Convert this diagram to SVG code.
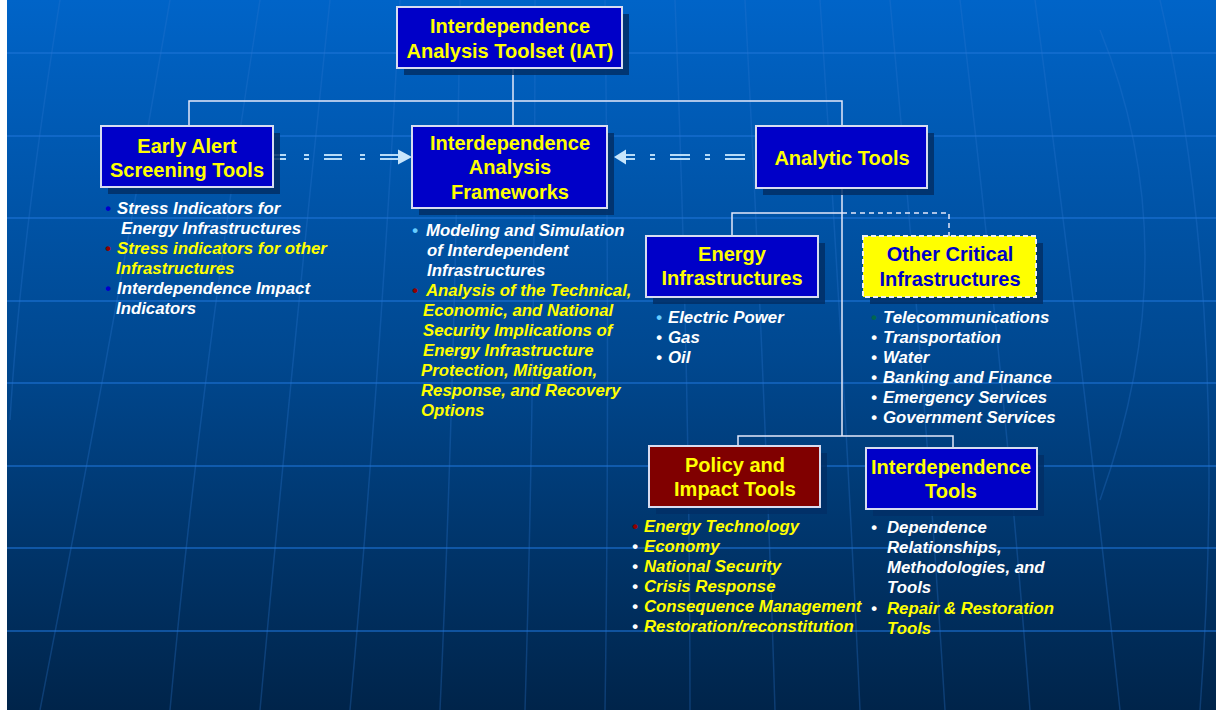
<svg xmlns="http://www.w3.org/2000/svg" width="1216" height="710" viewBox="0 0 1216 710">
<defs>
<linearGradient id="bg" x1="0" y1="0" x2="0" y2="1">
<stop offset="0" stop-color="#0064C8"/>
<stop offset="0.5" stop-color="#004890"/>
<stop offset="1" stop-color="#00244A"/>
</linearGradient>
<style>
.hl{stroke:#1E74D8;stroke-width:2;opacity:0.55}
.mer{fill:none;stroke:#2A78D0;stroke-width:1.5;opacity:0.3}
.shadow{fill:#012F66;opacity:0.85}
.box{stroke:#D8DCF0;stroke-width:2}
.blue{fill:#0000C8}
.red{fill:#800000}
.yel{fill:#FFFF00}
.title{font-family:"Liberation Sans",Arial,sans-serif;font-weight:bold;font-size:20px;text-anchor:middle}
.ty{fill:#FFFF00}
.tb{fill:#0000C8}
.item{font-family:"Liberation Sans",Arial,sans-serif;font-weight:bold;font-style:italic;font-size:16.8px}
.w{fill:#FFFFFF}
.y{fill:#FFFF00}
.conn{fill:none;stroke:#E4E8FA;stroke-width:1.5}
.dconn{fill:none;stroke:#E4E8FA;stroke-width:1.5;stroke-dasharray:5 4}
.dar{fill:none;stroke:#B8DCF8;stroke-width:2}
.ahead{fill:#C8E6FC}
</style>
</defs>
<rect x="0" y="0" width="1216" height="710" fill="#FFFFFF"/>
<rect x="7" y="0" width="1209" height="710" fill="url(#bg)"/>
<g id="background-grid">
<line class="hl" x1="7" y1="53" x2="1216" y2="53"/>
<line class="hl" x1="7" y1="136" x2="1216" y2="136"/>
<line class="hl" x1="7" y1="218" x2="1216" y2="218"/>
<line class="hl" x1="7" y1="301" x2="1216" y2="301"/>
<line class="hl" x1="7" y1="383" x2="1216" y2="383"/>
<line class="hl" x1="7" y1="466" x2="1216" y2="466" opacity="0.4"/>
<line class="hl" x1="7" y1="548" x2="1216" y2="548" opacity="0.35"/>
<line class="hl" x1="7" y1="631" x2="1216" y2="631" opacity="0.3"/>
<path class="mer" d="M60,0 Q20,250 10,420"/>
<path class="mer" d="M170,0 Q110,350 40,710"/>
<path class="mer" d="M260,0 Q200,380 170,710"/>
<path class="mer" d="M330,0 Q290,380 260,710"/>
<path class="mer" d="M400,0 Q380,380 350,710"/>
<path class="mer" d="M460,0 Q455,380 440,710"/>
<path class="mer" d="M535,0 Q535,380 525,710"/>
<path class="mer" d="M605,0 Q610,380 605,710"/>
<path class="mer" d="M675,0 Q690,380 690,710"/>
<path class="mer" d="M745,0 Q765,380 775,710"/>
<path class="mer" d="M820,0 Q845,380 860,710"/>
<path class="mer" d="M890,0 Q925,380 945,710"/>
<path class="mer" d="M960,0 Q1005,380 1030,710"/>
<path class="mer" d="M1035,0 Q1085,380 1120,710"/>
<path class="mer" d="M1100,30 Q1190,250 1100,500"/>
<path class="mer" d="M1160,0 Q1230,300 1200,710"/>
</g>
<g id="connectors">
<polyline class="conn" points="513,68 513,126"/>
<polyline class="conn" points="189,126 189,101 842,101 842,126"/>
<polyline class="conn" points="842,188 842,436"/>
<polyline class="conn" points="732,236 732,213 842,213"/>
<polyline class="dconn" points="842,213 949,213 949,236"/>
<polyline class="conn" points="738,446 738,436 953,436 953,448"/>
<line class="dar" x1="398" y1="155" x2="273" y2="155" stroke-dasharray="18 15 5 18"/>
<line class="dar" x1="398" y1="159" x2="273" y2="159" stroke-dasharray="18 15 5 18"/>
<polygon class="ahead" points="412,157 398,149.5 398,164.5"/>
<line class="dar" x1="745" y1="155" x2="625" y2="155" stroke-dasharray="20 15 5 15"/>
<line class="dar" x1="745" y1="159" x2="625" y2="159" stroke-dasharray="20 15 5 15"/>
<polygon class="ahead" points="614,157 626,149.5 626,164.5"/>
</g>
<g id="node-iat">
<rect class="shadow" x="404" y="14" width="225" height="61"/>
<rect class="box blue" x="397" y="7" width="225" height="61"/>
<text class="title ty" x="510" y="33">Interdependence</text>
<text class="title ty" x="510" y="58">Analysis Toolset (IAT)</text>
</g>
<g id="node-early-alert">
<rect class="shadow" x="108" y="133" width="172" height="61"/>
<rect class="box blue" x="101" y="126" width="172" height="61"/>
<text class="title ty" x="187" y="153">Early Alert</text>
<text class="title ty" x="187" y="177">Screening Tools</text>
<text class="item" x="105" y="214"><tspan fill="#0000CC">•</tspan><tspan class="w" x="117">Stress Indicators for</tspan></text>
<text class="item w" x="121" y="234">Energy Infrastructures</text>
<text class="item" x="105" y="254"><tspan fill="#900000">•</tspan><tspan class="y" x="117">Stress indicators for other</tspan></text>
<text class="item y" x="116" y="274">Infrastructures</text>
<text class="item" x="105" y="294"><tspan fill="#0000CC">•</tspan><tspan class="w" x="117">Interdependence Impact</tspan></text>
<text class="item w" x="116" y="314">Indicators</text>
</g>
<g id="node-frameworks">
<rect class="shadow" x="419" y="133" width="195" height="82"/>
<rect class="box blue" x="412" y="126" width="195" height="82"/>
<text class="title ty" x="510" y="150">Interdependence</text>
<text class="title ty" x="510" y="174">Analysis</text>
<text class="title ty" x="510" y="199">Frameworks</text>
<text class="item" x="412" y="236"><tspan fill="#66CCFF">•</tspan><tspan class="w" x="426">Modeling and Simulation</tspan></text>
<text class="item w" x="427" y="256">of Interdependent</text>
<text class="item w" x="427" y="276">Infrastructures</text>
<text class="item" x="412" y="296"><tspan fill="#900000">•</tspan><tspan class="y" x="426">Analysis of the Technical,</tspan></text>
<text class="item y" x="423" y="316">Economic, and National</text>
<text class="item y" x="423" y="336">Security Implications of</text>
<text class="item y" x="423" y="356">Energy Infrastructure</text>
<text class="item y" x="421" y="376">Protection, Mitigation,</text>
<text class="item y" x="421" y="396">Response, and Recovery</text>
<text class="item y" x="421" y="416">Options</text>
</g>
<g id="node-analytic">
<rect class="shadow" x="763" y="133" width="171" height="62"/>
<rect class="box blue" x="756" y="126" width="171" height="62"/>
<text class="title ty" x="842" y="165">Analytic Tools</text>
</g>
<g id="node-energy">
<rect class="shadow" x="653" y="243" width="172" height="61"/>
<rect class="box blue" x="646" y="236" width="172" height="61"/>
<text class="title ty" x="732" y="261">Energy</text>
<text class="title ty" x="732" y="285">Infrastructures</text>
<text class="item" x="656" y="323"><tspan fill="#66CCFF">•</tspan><tspan class="w" x="668">Electric Power</tspan></text>
<text class="item" x="656" y="343"><tspan class="w">•</tspan><tspan class="w" x="668">Gas</tspan></text>
<text class="item" x="656" y="363"><tspan class="w">•</tspan><tspan class="w" x="668">Oil</tspan></text>
</g>
<g id="node-other-critical">
<rect class="shadow" x="870" y="243" width="173" height="61"/>
<rect class="yel" x="863" y="236" width="173" height="61" stroke="#F0F0F0" stroke-width="2" stroke-dasharray="5 3"/>
<text class="title tb" x="950" y="261">Other Critical</text>
<text class="title tb" x="950" y="286">Infrastructures</text>
<text class="item" x="871" y="323"><tspan fill="#006650">•</tspan><tspan class="w" x="883">Telecommunications</tspan></text>
<text class="item" x="871" y="343"><tspan class="w">•</tspan><tspan class="w" x="883">Transportation</tspan></text>
<text class="item" x="871" y="363"><tspan class="w">•</tspan><tspan class="w" x="883">Water</tspan></text>
<text class="item" x="871" y="383"><tspan class="w">•</tspan><tspan class="w" x="883">Banking and Finance</tspan></text>
<text class="item" x="871" y="403"><tspan class="w">•</tspan><tspan class="w" x="883">Emergency Services</tspan></text>
<text class="item" x="871" y="423"><tspan class="w">•</tspan><tspan class="w" x="883">Government Services</tspan></text>
</g>
<g id="node-policy">
<rect class="shadow" x="656" y="453" width="171" height="61"/>
<rect class="box red" x="649" y="446" width="171" height="61"/>
<text class="title ty" x="735" y="472">Policy and</text>
<text class="title ty" x="735" y="496">Impact Tools</text>
<text class="item" x="632" y="532"><tspan fill="#900000">•</tspan><tspan class="y" x="644">Energy Technology</tspan></text>
<text class="item" x="632" y="552"><tspan class="w">•</tspan><tspan class="y" x="644">Economy</tspan></text>
<text class="item" x="632" y="572"><tspan class="w">•</tspan><tspan class="y" x="644">National Security</tspan></text>
<text class="item" x="632" y="592"><tspan class="w">•</tspan><tspan class="y" x="644">Crisis Response</tspan></text>
<text class="item" x="632" y="612"><tspan class="w">•</tspan><tspan class="y" x="644">Consequence Management</tspan></text>
<text class="item" x="632" y="632"><tspan class="w">•</tspan><tspan class="y" x="644">Restoration/reconstitution</tspan></text>
</g>
<g id="node-interdependence-tools">
<rect class="shadow" x="873" y="455" width="171" height="61"/>
<rect class="box blue" x="866" y="448" width="171" height="61"/>
<text class="title ty" x="951" y="474">Interdependence</text>
<text class="title ty" x="951" y="498">Tools</text>
<text class="item" x="871" y="533"><tspan class="w">•</tspan><tspan class="w" x="887">Dependence</tspan></text>
<text class="item w" x="887" y="553">Relationships,</text>
<text class="item w" x="887" y="573">Methodologies, and</text>
<text class="item w" x="887" y="593">Tools</text>
<text class="item" x="871" y="614"><tspan class="w">•</tspan><tspan class="y" x="887">Repair &amp; Restoration</tspan></text>
<text class="item y" x="887" y="634">Tools</text>
</g>
</svg>
